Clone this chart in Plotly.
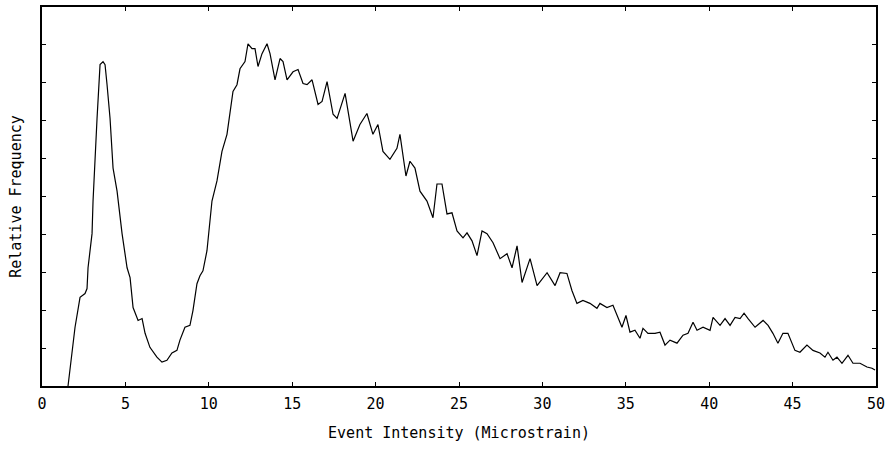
import plotly.graph_objects as go

intensity = [1.56, 1.80, 1.98, 2.28, 2.58, 2.70, 2.76, 3.00, 3.06, 3.30, 3.48, 3.66, 3.78, 3.90, 4.08, 4.26, 4.50, 4.80, 5.10, 5.28,
             5.46, 5.76, 6.00, 6.18, 6.47, 6.89, 7.19, 7.49, 7.79, 8.09, 8.27, 8.57, 8.87, 9.05, 9.29, 9.47, 9.65, 9.89, 10.07, 10.19,
             10.49, 10.79, 11.09, 11.27, 11.45, 11.69, 11.87, 12.17, 12.35, 12.59, 12.77, 12.95, 13.19, 13.49, 13.67, 13.97, 14.27, 14.45, 14.69, 15.05,
             15.35, 15.65, 15.89, 16.19, 16.55, 16.79, 17.09, 17.45, 17.69, 18.17, 18.65, 19.06, 19.48, 19.84, 20.14, 20.44, 20.86, 21.28, 21.46, 21.82,
             22.06, 22.36, 22.66, 23.08, 23.44, 23.68, 23.98, 24.28, 24.58, 24.88, 25.24, 25.48, 25.78, 26.08, 26.38, 26.68, 27.04, 27.46, 27.88, 28.18,
             28.48, 28.78, 29.26, 29.68, 30.28, 30.76, 31.06, 31.47, 31.77, 32.07, 32.43, 32.85, 33.27, 33.45, 33.87, 34.23, 34.53, 34.77, 35.01, 35.25,
             35.55, 35.85, 36.03, 36.33, 36.75, 37.05, 37.35, 37.65, 38.07, 38.43, 38.73, 39.03, 39.27, 39.63, 40.05, 40.23, 40.65, 40.95, 41.25, 41.55,
             41.85, 42.09, 42.33, 42.75, 43.23, 43.53, 43.82, 44.12, 44.42, 44.72, 45.14, 45.44, 45.86, 46.22, 46.64, 46.94, 47.12, 47.42, 47.66, 47.96,
             48.32, 48.62, 49.04, 49.46, 49.76, 49.94]
frequency = [0.00, 0.87, 1.55, 2.34, 2.44, 2.57, 3.12, 4.02, 4.88, 7.06, 8.48, 8.56, 8.48, 7.95, 7.06, 5.75, 5.14, 4.02, 3.12, 2.86,
             2.07, 1.73, 1.78, 1.39, 1.02, 0.76, 0.63, 0.68, 0.87, 0.94, 1.21, 1.55, 1.60, 1.99, 2.70, 2.91, 3.04, 3.57, 4.44, 4.88,
             5.41, 6.19, 6.64, 7.24, 7.77, 7.95, 8.37, 8.56, 9.03, 8.90, 8.90, 8.43, 8.77, 9.03, 8.77, 8.08, 8.64, 8.56, 8.08, 8.29,
             8.35, 7.98, 7.95, 8.08, 7.43, 7.51, 8.03, 7.17, 7.06, 7.72, 6.46, 6.90, 7.19, 6.64, 6.90, 6.19, 5.98, 6.27, 6.64, 5.54,
             5.93, 5.75, 5.14, 4.88, 4.44, 5.33, 5.33, 4.54, 4.57, 4.09, 3.91, 4.04, 3.83, 3.44, 4.09, 4.02, 3.78, 3.36, 3.49, 3.12,
             3.70, 2.73, 3.36, 2.65, 2.99, 2.65, 2.99, 2.97, 2.52, 2.18, 2.26, 2.18, 2.05, 2.18, 2.07, 2.13, 1.81, 1.55, 1.86, 1.42,
             1.47, 1.26, 1.52, 1.39, 1.39, 1.42, 1.08, 1.21, 1.13, 1.34, 1.39, 1.68, 1.47, 1.55, 1.47, 1.81, 1.60, 1.78, 1.60, 1.81,
             1.78, 1.92, 1.78, 1.55, 1.73, 1.60, 1.39, 1.13, 1.39, 1.39, 0.94, 0.89, 1.08, 0.94, 0.87, 0.76, 0.89, 0.68, 0.76, 0.60,
             0.81, 0.60, 0.60, 0.50, 0.47, 0.42]

x_ticks = [0, 5, 10, 15, 20, 25, 30, 35, 40, 45, 50]
x_tick_labels = ["0", "5", "10", "15", "20", "25", "30", "35", "40", "45", "50"]

font = "DejaVu Sans Mono"

fig = go.Figure()
fig.add_trace(go.Scatter(x=intensity, y=frequency, mode="lines",
                         line=dict(color="black", width=1.2), showlegend=False,
                         hoverinfo="skip"))

fig.update_layout(
    width=891, height=449,
    margin=dict(l=42, r=15, t=5, b=63),
    paper_bgcolor="white", plot_bgcolor="white",
    font=dict(family=font, size=15, color="black"),
)
fig.update_xaxes(
    range=[0, 50], tickvals=x_ticks, ticktext=x_tick_labels,
    ticks="inside", ticklen=4, tickcolor="black", tickwidth=1,
    ticklabelstandoff=3,
    showline=True, linecolor="black", linewidth=1.5, mirror="ticks",
    showgrid=False, zeroline=False,
    title=dict(text="Event Intensity (Microstrain)", font=dict(family=font, size=15), standoff=16),
)
fig.update_yaxes(
    range=[0, 10], dtick=1, tick0=0, showticklabels=False,
    ticks="inside", ticklen=4, tickcolor="black", tickwidth=1,
    showline=True, linecolor="black", linewidth=1.5, mirror="ticks",
    showgrid=False, zeroline=False,
    title=dict(text="Relative Frequency", font=dict(family=font, size=15), standoff=15),
)

fig.write_html("out.html")
